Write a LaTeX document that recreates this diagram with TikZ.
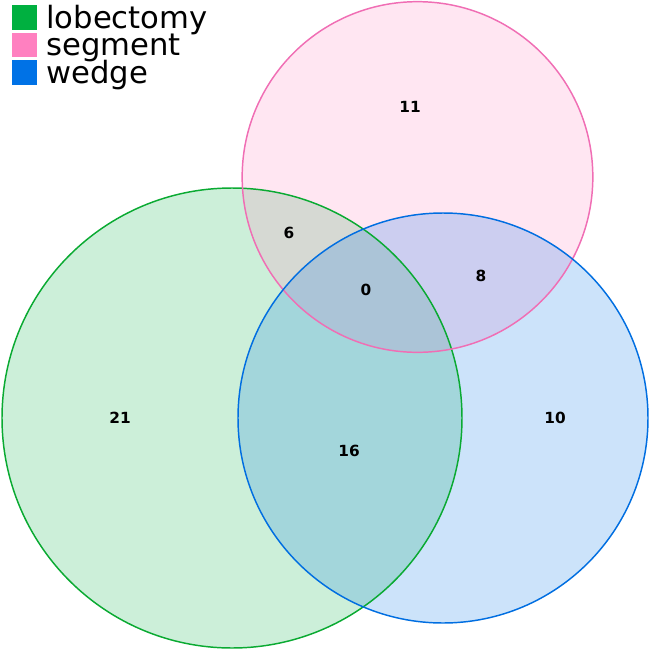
\documentclass[tikz,border=0pt]{standalone}
\usepackage{fontspec}
\setmainfont{DejaVu Sans}
\usetikzlibrary{positioning}
\definecolor{LB}{RGB}{0,176,64}
\definecolor{SG}{RGB}{255,128,192}
\definecolor{WD}{RGB}{0,114,230}
\definecolor{LBd}{RGB}{10,170,50}
\definecolor{SGd}{RGB}{240,110,180}
\definecolor{WDd}{RGB}{0,110,225}

\tikzset{
  count/.style={font=\bfseries\fontsize{11.5}{12}\selectfont, text=black},
  keybox/.style={minimum size=18.5pt, inner sep=0pt, anchor=north west},
  keytext/.style={font=\fontsize{23}{28}\selectfont, anchor=base west, inner sep=0pt, text depth=0pt}
}

\begin{document}
\begin{tikzpicture}[x=0.75pt,y=-0.75pt]
\useasboundingbox (0,0) rectangle (650,651);

\fill[LB, opacity=0.2] (232,418) circle (172.5pt);
\fill[SG, opacity=0.2] (417.5,177) circle (131.5pt);
\fill[WD, opacity=0.2] (443,418) circle (153.75pt);

\draw[LBd, line width=1.1pt] (232,418) circle (172.5pt);
\draw[SGd, line width=1.1pt] (417.5,177) circle (131.5pt);
\draw[WDd, line width=1.1pt] (443,418) circle (153.75pt);

\node[count] (nS)   at (410,107) {11};
\node[count] (nLS)  at (289,233) {6};
\node[count] (nLSW) at (366,290) {0};
\node[count] (nSW)  at (481,276) {8};
\node[count] (nL)   at (120,418) {21};
\node[count] (nLW)  at (349,451) {16};
\node[count] (nW)   at (555,418) {10};

\node[keybox, fill=LB] (keyL) at (12,5) {};
\node[keybox, fill=SG] (keyS) at (12,32.5) {};
\node[keybox, fill=WD] (keyW) at (12,60) {};
\node[keytext] (txtL) at (46,28) {lobectomy};
\node[keytext] (txtS) at (46,55.5) {segment};
\node[keytext] (txtW) at (46,83) {wedge};
\end{tikzpicture}
\end{document}
